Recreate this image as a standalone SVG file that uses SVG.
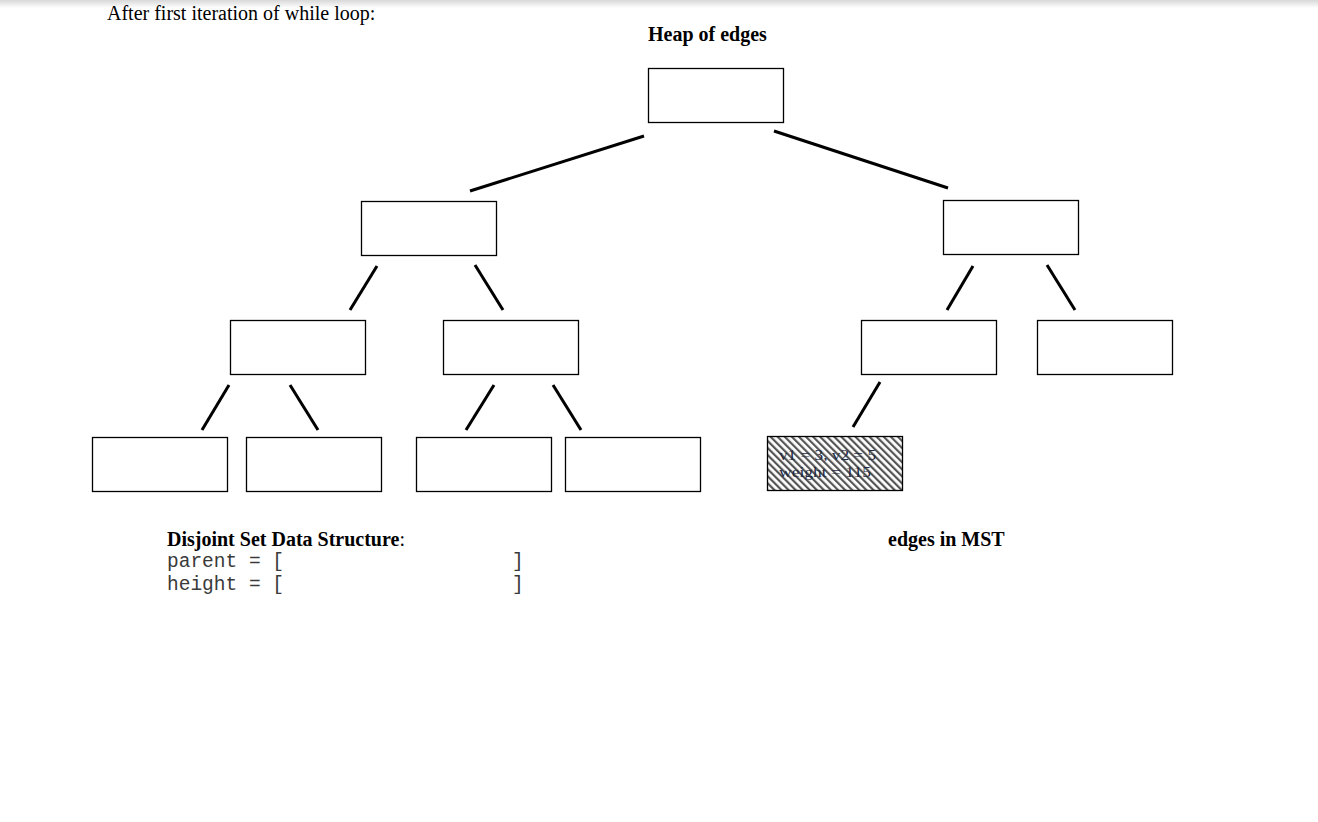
<svg xmlns="http://www.w3.org/2000/svg" width="1318" height="822" viewBox="0 0 1318 822">
<style>
.box{fill:#fff;stroke:#000;stroke-width:1.3}
.edge{stroke:#000;stroke-width:3;stroke-linecap:butt}
.serif{font-family:"Liberation Serif","Times New Roman",serif;fill:#000;font-size:20px}
.bold{font-weight:bold}
.mono{font-family:"Liberation Mono","Courier New",monospace;fill:#3a3a3a;font-size:19.5px}
.cell{font-family:"Liberation Serif","DejaVu Serif",serif;font-size:15.5px;fill:#1c2a44}
</style>
<defs>
<linearGradient id="topShade" x1="0" y1="0" x2="0" y2="1">
<stop offset="0" stop-color="#d8d8d8"/>
<stop offset="1" stop-color="#ffffff"/>
</linearGradient>
<pattern id="hatch" width="5" height="5" patternUnits="userSpaceOnUse" patternTransform="rotate(-45)">
<rect width="5" height="5" fill="#fff"/>
<rect width="2.2" height="5" fill="#555"/>
</pattern>
</defs>
<rect width="1318" height="822" fill="#fff"/>
<rect width="1318" height="8" fill="url(#topShade)"/>

<text class="serif" x="107" y="20">After first iteration of while loop:</text>
<text class="serif bold" x="648" y="41">Heap of edges</text>

<g id="connectors">
<line class="edge" x1="644" y1="136" x2="470" y2="191"/>
<line class="edge" x1="774" y1="131" x2="948" y2="188"/>
<line class="edge" x1="377" y1="266" x2="350" y2="310"/>
<line class="edge" x1="475" y1="265" x2="503" y2="310"/>
<line class="edge" x1="973" y1="266" x2="947" y2="310"/>
<line class="edge" x1="1047" y1="265" x2="1075" y2="310"/>
<line class="edge" x1="229" y1="385" x2="202" y2="430"/>
<line class="edge" x1="290" y1="385" x2="318" y2="430"/>
<line class="edge" x1="494" y1="385" x2="466" y2="430"/>
<line class="edge" x1="553" y1="385" x2="581" y2="430"/>
<line class="edge" x1="880" y1="382" x2="853" y2="427"/>
</g>

<g id="root"><rect class="box" x="648.5" y="68.5" width="135" height="54"/></g>
<g id="n2L"><rect class="box" x="361.5" y="201.5" width="135" height="54"/></g>
<g id="n2R"><rect class="box" x="943.5" y="200.5" width="135" height="54"/></g>
<g id="n3a"><rect class="box" x="230.5" y="320.5" width="135" height="54"/></g>
<g id="n3b"><rect class="box" x="443.5" y="320.5" width="135" height="54"/></g>
<g id="n3c"><rect class="box" x="861.5" y="320.5" width="135" height="54"/></g>
<g id="n3d"><rect class="box" x="1037.5" y="320.5" width="135" height="54"/></g>
<g id="n4a"><rect class="box" x="92.5" y="437.5" width="135" height="54"/></g>
<g id="n4b"><rect class="box" x="246.5" y="437.5" width="135" height="54"/></g>
<g id="n4c"><rect class="box" x="416.5" y="437.5" width="135" height="54"/></g>
<g id="n4d"><rect class="box" x="565.5" y="437.5" width="135" height="54"/></g>
<g id="n4e">
<rect x="767.5" y="436.5" width="135" height="54" fill="url(#hatch)" stroke="#000" stroke-width="1.3"/>
<text class="cell" x="779" y="460" textLength="97" lengthAdjust="spacingAndGlyphs">v1 = 3,  v2 = 5</text>
<text class="cell" x="779" y="477" textLength="92" lengthAdjust="spacingAndGlyphs">weight = 115</text>
</g>

<g id="disjoint">
<text class="serif" x="167" y="546"><tspan class="bold">Disjoint Set Data Structure</tspan>:</text>
<text class="mono" x="167" y="567">parent = [</text>
<text class="mono" x="512" y="567">]</text>
<text class="mono" x="167" y="590">height = [</text>
<text class="mono" x="512" y="590">]</text>
</g>
<text class="serif bold" x="888" y="546">edges in MST</text>
</svg>
